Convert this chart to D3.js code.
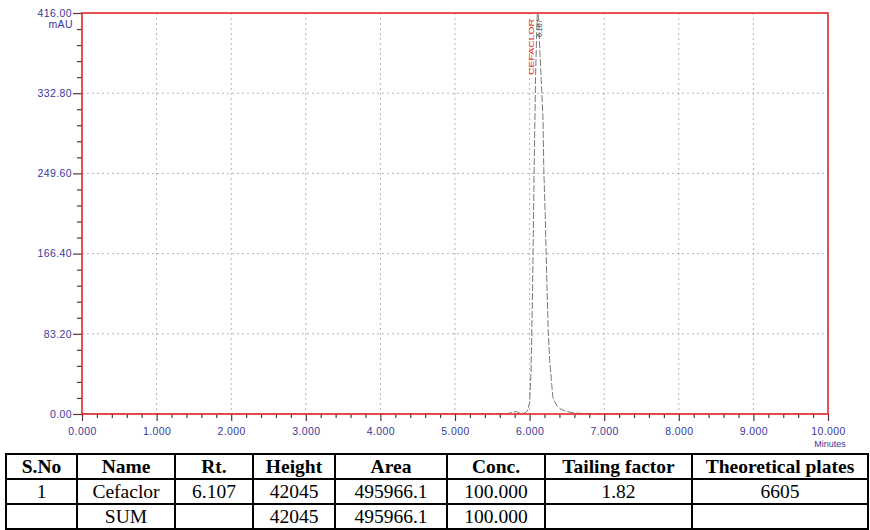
<!DOCTYPE html>
<html>
<head>
<meta charset="utf-8">
<script src="https://cdn.jsdelivr.net/npm/d3@7/dist/d3.min.js"></script>
<style>
  html, body { margin: 0; padding: 0; background: #fff; }
  svg { display: block; }
</style>
</head>
<body>
<svg id="chart" width="870" height="530"></svg>
<script>
// Chromatogram trace: retention time (min) and detector response (mAU)
const traceTime = [0, 1, 2, 3, 4, 5, 5.5, 5.70, 5.78, 5.82, 5.86, 5.93, 5.97, 6.00, 6.02, 6.04, 6.06, 6.08, 6.10, 6.107,
  6.12, 6.14, 6.16, 6.18, 6.19, 6.21, 6.23, 6.25, 6.27, 6.29, 6.31, 6.33, 6.37, 6.42, 6.50, 6.60, 6.75, 7.00, 8, 9, 10];
const traceMAU = [0.1, 0.1, 0.1, 0.1, 0.1, 0.2, 0.2, 0.3, 1.8, 2.5, 1.0, 0.8, 3, 12, 45, 130, 250, 350, 410, 420.45,
  412, 372, 340, 305, 255, 205, 140, 85, 55, 37, 18, 14, 8, 5, 2.5, 1, 0.4, 0.2, 0.1, 0.1, 0.1];

// Identified peak
const peakName = "CEFACLOR";
const peakRT = 6.107;

// Axis ticks
const yTicks = [0, 83.2, 166.4, 249.6, 332.8, 416];
const xTicks = [0, 1, 2, 3, 4, 5, 6, 7, 8, 9, 10];
const yUnit = "mAU";
const xUnit = "Minutes";

// Peak report table
const tableHeader = ["S.No", "Name", "Rt.", "Height", "Area", "Conc.", "Tailing factor", "Theoretical plates"];
const rowPeak = ["1", "Cefaclor", "6.107", "42045", "495966.1", "100.000", "1.82", "6605"];
const rowSum = ["", "SUM", "", "42045", "495966.1", "100.000", "", ""];

const svg = d3.select("#chart");
const plot = { left: 82, right: 828, top: 13, bottom: 414 };

const x = d3.scaleLinear().domain([0, 10]).range([plot.left, plot.right]);
const y = d3.scaleLinear().domain([0, 416]).range([plot.bottom, plot.top]);

const red = "#e3262b";
const tickColor = "#5a3434";
const labelColor = "#37379a";
const labelFont = "'Liberation Sans', Arial, sans-serif";

// clip region for the trace
svg.append("defs").append("clipPath").attr("id", "plotClip")
  .append("rect")
  .attr("x", plot.left).attr("y", plot.top)
  .attr("width", plot.right - plot.left).attr("height", plot.bottom - plot.top);

// dotted grid
const grid = svg.append("g").attr("stroke", "#b5b5b5").attr("stroke-width", 1).attr("stroke-dasharray", "2,3");
grid.selectAll("line.gx").data(xTicks.slice(1, -1)).join("line")
  .attr("x1", d => x(d)).attr("x2", d => x(d))
  .attr("y1", plot.top).attr("y2", plot.bottom);
grid.selectAll("line.gy").data(yTicks.slice(1, -1)).join("line")
  .attr("x1", plot.left).attr("x2", plot.right)
  .attr("y1", d => y(d)).attr("y2", d => y(d));

// trace
const line = d3.line().x((d, i) => x(traceTime[i])).y(d => y(d));
svg.append("path")
  .datum(traceMAU)
  .attr("clip-path", "url(#plotClip)")
  .attr("fill", "none")
  .attr("stroke", "#7a7a7a")
  .attr("stroke-width", 1)
  .attr("stroke-dasharray", "7,2")
  .attr("d", line);

// minor ticks
const xMinor = d3.range(0, 10.0001, 0.2).filter(v => Math.abs(v - Math.round(v)) > 1e-6);
const yMinor = d3.range(0, 416.0001, 16.64).filter(v => yTicks.every(t => Math.abs(t - v) > 1e-6));

const xMinorAxis = svg.append("g").attr("transform", `translate(0,${plot.bottom})`)
  .call(d3.axisBottom(x).tickValues(xMinor).tickSize(4).tickFormat(""));
const yMinorAxis = svg.append("g").attr("transform", `translate(${plot.left},0)`)
  .call(d3.axisLeft(y).tickValues(yMinor).tickSize(5).tickFormat(""));

// major axes
const xAxis = svg.append("g").attr("transform", `translate(0,${plot.bottom})`)
  .call(d3.axisBottom(x).tickValues(xTicks).tickSize(7).tickPadding(7).tickFormat(d3.format(".3f")));
const yAxis = svg.append("g").attr("transform", `translate(${plot.left},0)`)
  .call(d3.axisLeft(y).tickValues(yTicks).tickSize(9).tickPadding(1).tickFormat(d3.format(".2f")));

[xMinorAxis, yMinorAxis, xAxis, yAxis].forEach(g => {
  g.select(".domain").remove();
  g.selectAll(".tick line").attr("stroke", tickColor).attr("stroke-width", 1.2);
  g.selectAll(".tick text")
    .attr("fill", labelColor)
    .attr("font-family", labelFont)
    .attr("font-size", 10.5)
    .attr("letter-spacing", 0.4);
});

// frame
svg.append("rect")
  .attr("x", plot.left).attr("y", plot.top)
  .attr("width", plot.right - plot.left).attr("height", plot.bottom - plot.top)
  .attr("fill", "none").attr("stroke", red).attr("stroke-width", 1.6);

// unit labels
svg.append("text").attr("x", plot.left - 9).attr("y", plot.top + 15)
  .attr("text-anchor", "end").attr("fill", labelColor)
  .attr("font-family", labelFont).attr("font-size", 10.5).attr("letter-spacing", 0.4)
  .text(yUnit);
svg.append("text").attr("x", plot.right + 2).attr("y", plot.bottom + 33)
  .attr("text-anchor", "middle").attr("fill", labelColor)
  .attr("font-family", labelFont).attr("font-size", 9)
  .text(xUnit);

// peak annotations
svg.append("text")
  .attr("transform", `translate(${x(peakRT) - 4},${plot.top + 62}) rotate(-90)`)
  .attr("fill", red)
  .attr("font-family", labelFont).attr("font-size", 7.5)
  .attr("textLength", 56).attr("lengthAdjust", "spacingAndGlyphs")
  .text(peakName);
svg.append("text")
  .attr("transform", `translate(${x(peakRT) + 4},${plot.top + 24}) rotate(-90)`)
  .attr("fill", "#333")
  .attr("font-family", labelFont).attr("font-size", 7)
  .text(d3.format(".3f")(peakRT));

// report table
const colEdges = [6, 77, 175, 253, 335, 447, 545, 692, 868];
const rowEdges = [454, 479, 504, 529];
const rows = [tableHeader, rowPeak, rowSum];
const table = svg.append("g");

rows.forEach((row, r) => {
  table.selectAll(null).data(row).join("text")
    .attr("x", (d, c) => (colEdges[c] + colEdges[c + 1]) / 2)
    .attr("y", (rowEdges[r] + rowEdges[r + 1]) / 2 + 6.5)
    .attr("text-anchor", "middle")
    .attr("font-family", "'Liberation Serif', 'Times New Roman', serif")
    .attr("font-size", 19.5)
    .attr("font-weight", r === 0 ? "bold" : "normal")
    .attr("fill", "#000")
    .text(d => d);
});

const tlines = table.append("g").attr("stroke", "#000").attr("stroke-width", 2);
tlines.selectAll("line.h").data(rowEdges).join("line")
  .attr("x1", colEdges[0]).attr("x2", colEdges[colEdges.length - 1])
  .attr("y1", d => d).attr("y2", d => d);
tlines.selectAll("line.v").data(colEdges).join("line")
  .attr("x1", d => d).attr("x2", d => d)
  .attr("y1", rowEdges[0] - 1).attr("y2", rowEdges[rowEdges.length - 1] + 1);
</script>
</body>
</html>
